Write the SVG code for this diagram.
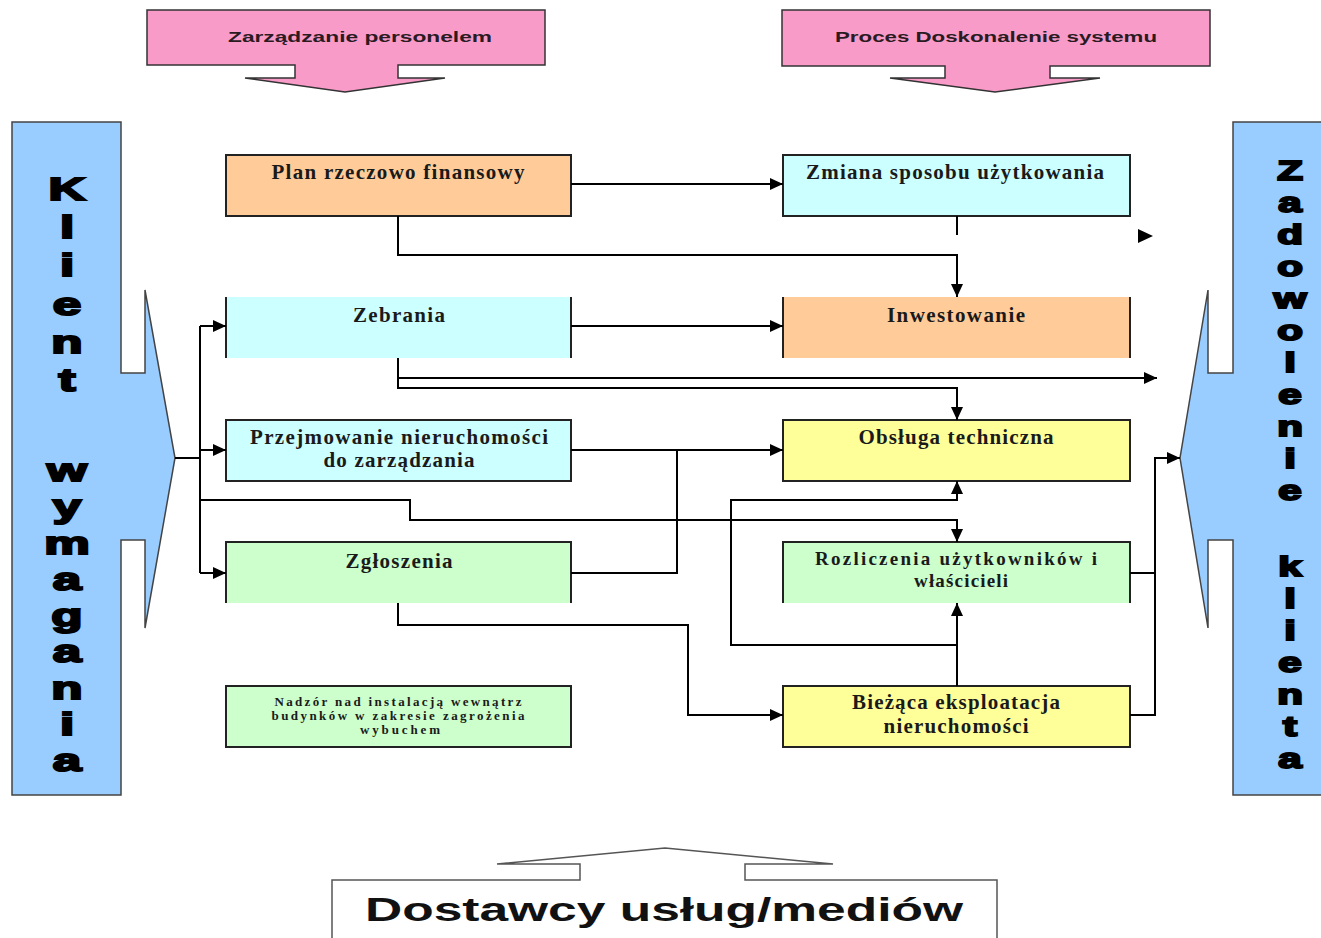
<svg xmlns="http://www.w3.org/2000/svg" width="1321" height="938" viewBox="0 0 1321 938">
<defs>
<marker id="ah" markerUnits="userSpaceOnUse" markerWidth="14" markerHeight="12" refX="13" refY="6" orient="auto">
<path d="M0,0 L13,6 L0,12 Z" fill="#000"/>
</marker>
<style>
.box{stroke:#222;stroke-width:2}
.nb{stroke:none}
.edge{stroke:#222;stroke-width:2;fill:none}
.c{fill:none;stroke:#000;stroke-width:2}
.ca{fill:none;stroke:#000;stroke-width:2;marker-end:url(#ah)}
.lbl{font-family:"Liberation Serif","Times New Roman",serif;font-weight:bold;font-size:21px;fill:#1a1a1a;text-anchor:middle}
.sm{font-family:"Liberation Serif","Times New Roman",serif;font-weight:bold;font-size:13px;fill:#1a1a1a;text-anchor:middle}
.pk{fill:#F99BC9;stroke:#333;stroke-width:1.5}
.bl{fill:#99CCFF;stroke:#444;stroke-width:1.5}
.ptxt{font-family:"Liberation Sans",Arial,sans-serif;font-weight:bold;font-size:15px;fill:#2a1a22;text-anchor:middle}
.vl{font-family:"Liberation Sans",Arial,sans-serif;font-weight:bold;font-size:32px;fill:#000;stroke:#000;stroke-width:2;text-anchor:middle}
.vr{font-family:"Liberation Sans",Arial,sans-serif;font-weight:bold;font-size:28px;fill:#000;stroke:#000;stroke-width:2;text-anchor:middle}
.orange{fill:#FFCC99}.cyan{fill:#CCFFFF}.green{fill:#CCFFCC}.yellow{fill:#FFFF99}
</style>
</defs>
<rect width="1321" height="938" fill="#fff"/>

<g id="zarzadzanie">
<path class="pk" d="M147,10 H545 V65 H398 V78 H445 L345,92 L245,78 H295 V65 H147 Z"/>
<text class="ptxt" x="360" y="42" textLength="264" lengthAdjust="spacingAndGlyphs">Zarządzanie personelem</text>
</g>
<g id="proces">
<path class="pk" d="M782,10 H1210 V66 H1050 V78 H1100 L995,92 L890,78 H945 V66 H782 Z"/>
<text class="ptxt" x="996" y="42" textLength="322" lengthAdjust="spacingAndGlyphs">Proces Doskonalenie systemu</text>
</g>

<g id="klient">
<path class="bl" d="M12,122 H121 V373 H145 V290 L175,458 L145,628 V540 H121 V795 H12 Z"/>
<text class="vl" transform="translate(67,200) scale(1.6,1)">K</text>
<text class="vl" transform="translate(67,238) scale(1.6,1)">l</text>
<text class="vl" transform="translate(67,276) scale(1.6,1)">i</text>
<text class="vl" transform="translate(67,315) scale(1.6,1)">e</text>
<text class="vl" transform="translate(67,353) scale(1.6,1)">n</text>
<text class="vl" transform="translate(67,391) scale(1.6,1)">t</text>
<text class="vl" transform="translate(67,481) scale(1.6,1)">w</text>
<text class="vl" transform="translate(67,517) scale(1.6,1)">y</text>
<text class="vl" transform="translate(67,554) scale(1.6,1)">m</text>
<text class="vl" transform="translate(67,590) scale(1.6,1)">a</text>
<text class="vl" transform="translate(67,626) scale(1.6,1)">g</text>
<text class="vl" transform="translate(67,662) scale(1.6,1)">a</text>
<text class="vl" transform="translate(67,699) scale(1.6,1)">n</text>
<text class="vl" transform="translate(67,735) scale(1.6,1)">i</text>
<text class="vl" transform="translate(67,771) scale(1.6,1)">a</text>
</g>

<g id="zadowolenie">
<path class="bl" d="M1323,122 H1233 V373 H1208 V290 L1180,458 L1208,628 V540 H1233 V795 H1323 Z"/>
<text class="vr" transform="translate(1290,180) scale(1.5,1)">Z</text>
<text class="vr" transform="translate(1290,212) scale(1.5,1)">a</text>
<text class="vr" transform="translate(1290,244) scale(1.5,1)">d</text>
<text class="vr" transform="translate(1290,276) scale(1.5,1)">o</text>
<text class="vr" transform="translate(1290,308) scale(1.5,1)">w</text>
<text class="vr" transform="translate(1290,340) scale(1.5,1)">o</text>
<text class="vr" transform="translate(1290,372) scale(1.5,1)">l</text>
<text class="vr" transform="translate(1290,404) scale(1.5,1)">e</text>
<text class="vr" transform="translate(1290,436) scale(1.5,1)">n</text>
<text class="vr" transform="translate(1290,468) scale(1.5,1)">i</text>
<text class="vr" transform="translate(1290,500) scale(1.5,1)">e</text>
<text class="vr" transform="translate(1290,576) scale(1.5,1)">k</text>
<text class="vr" transform="translate(1290,608) scale(1.5,1)">l</text>
<text class="vr" transform="translate(1290,640) scale(1.5,1)">i</text>
<text class="vr" transform="translate(1290,672) scale(1.5,1)">e</text>
<text class="vr" transform="translate(1290,704) scale(1.5,1)">n</text>
<text class="vr" transform="translate(1290,736) scale(1.5,1)">t</text>
<text class="vr" transform="translate(1290,768) scale(1.5,1)">a</text>
</g>

<g id="plan">
<rect class="box orange" x="226" y="155" width="345" height="61"/>
<text class="lbl" x="398" y="179" textLength="253" lengthAdjust="spacing">Plan rzeczowo finansowy</text>
</g>
<g id="zmiana">
<rect class="box cyan" x="783" y="155" width="347" height="61"/>
<text class="lbl" x="955" y="179" textLength="298" lengthAdjust="spacing">Zmiana sposobu użytkowania</text>
</g>
<g id="zebrania">
<rect class="nb cyan" x="226" y="297" width="345" height="61"/>
<path class="edge" d="M226,297 V358 M571,297 V358"/>
<text class="lbl" x="399" y="322" textLength="92" lengthAdjust="spacing">Zebrania</text>
</g>
<g id="inwestowanie">
<rect class="nb orange" x="783" y="297" width="347" height="61"/>
<path class="edge" d="M783,297 V358 M1130,297 V358"/>
<text class="lbl" x="956" y="322" textLength="138" lengthAdjust="spacing">Inwestowanie</text>
</g>
<g id="przejmowanie">
<rect class="box cyan" x="226" y="420" width="345" height="61"/>
<text class="lbl" x="399" y="444" textLength="298" lengthAdjust="spacing">Przejmowanie nieruchomości</text>
<text class="lbl" x="399" y="467" textLength="151" lengthAdjust="spacing">do zarządzania</text>
</g>
<g id="obsluga">
<rect class="box yellow" x="783" y="420" width="347" height="61"/>
<text class="lbl" x="956" y="444" textLength="195" lengthAdjust="spacing">Obsługa techniczna</text>
</g>
<g id="zgloszenia">
<rect class="nb green" x="226" y="542" width="345" height="61"/>
<path class="edge" d="M226,603 V542 H571 V603"/>
<text class="lbl" x="399" y="568" textLength="107" lengthAdjust="spacing">Zgłoszenia</text>
</g>
<g id="rozliczenia">
<rect class="nb green" x="783" y="542" width="347" height="61"/>
<path class="edge" d="M783,603 V542 H1130 V603"/>
<text class="lbl" style="font-size:19px" x="956" y="565" textLength="282" lengthAdjust="spacing">Rozliczenia użytkowników i</text>
<text class="lbl" style="font-size:19px" x="961" y="587" textLength="94" lengthAdjust="spacing">właścicieli</text>
</g>
<g id="nadzor">
<rect class="box green" x="226" y="686" width="345" height="61"/>
<text class="sm" x="398" y="706" textLength="247" lengthAdjust="spacing">Nadzór nad instalacją wewnątrz</text>
<text class="sm" x="398" y="720" textLength="253" lengthAdjust="spacing">budynków w zakresie zagrożenia</text>
<text class="sm" x="400" y="734" textLength="80" lengthAdjust="spacing">wybuchem</text>
</g>
<g id="biezaca">
<rect class="box yellow" x="783" y="686" width="347" height="61"/>
<text class="lbl" x="956" y="709" textLength="208" lengthAdjust="spacing">Bieżąca eksploatacja</text>
<text class="lbl" x="956" y="733" textLength="145" lengthAdjust="spacing">nieruchomości</text>
</g>

<g id="dostawcy">
<path d="M332,940 V880 H580 V864 H497 L665,848 L833,864 H745 V880 H997 V940" fill="#fff" stroke="#555" stroke-width="1.5"/>
<text x="664" y="921" font-family="'Liberation Sans',Arial,sans-serif" font-weight="bold" font-size="34" text-anchor="middle" textLength="598" lengthAdjust="spacingAndGlyphs" fill="#111">Dostawcy usług/mediów</text>
</g>

<g id="connectors">
<path class="ca" d="M571,184 H783"/>
<path class="ca" d="M398,216 V255 H957 V297"/>
<path class="c" d="M957,216 V235"/>
<path d="M1138,229 L1153,236 L1138,243 Z" fill="#000"/>
<path class="ca" d="M571,326 H783"/>
<path class="ca" d="M398,358 V378 H1157"/>
<path class="ca" d="M398,378 V388 H957 V420"/>
<path class="ca" d="M571,450 H783"/>
<path class="c" d="M571,573 H677 V450"/>
<path class="c" d="M175,458 H200"/>
<path class="c" d="M200,326 V573"/>
<path class="ca" d="M200,326 H226"/>
<path class="ca" d="M200,450 H226"/>
<path class="ca" d="M200,573 H226"/>
<path class="ca" d="M200,500 H410 V520 H957 V542"/>
<path class="ca" d="M957,686 V603"/>
<path class="ca" d="M957,645 H731 V500 H957 V481"/>
<path class="ca" d="M398,603 V625 H688 V715 H783"/>
<path class="c" d="M1130,573 H1155"/>
<path class="ca" d="M1130,715 H1155 V458 H1180"/>
</g>
</svg>
